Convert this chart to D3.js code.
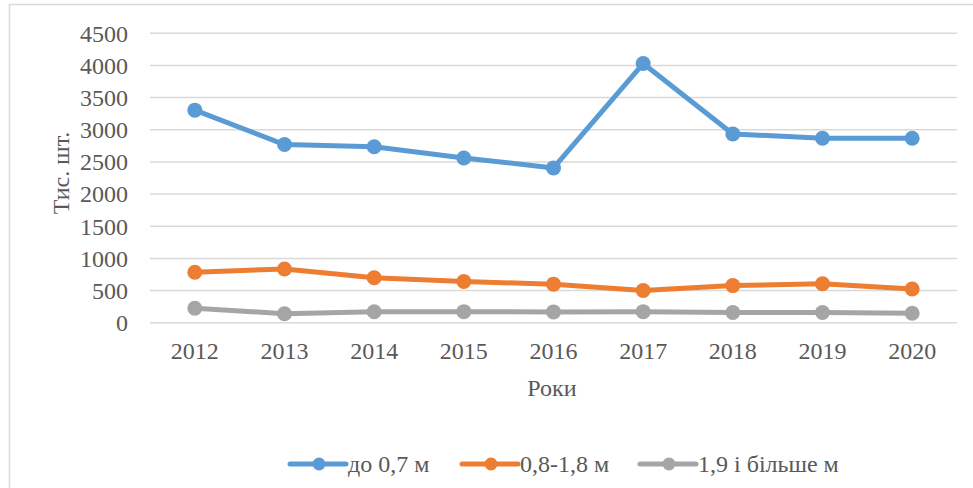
<!DOCTYPE html>
<html>
<head lang="uk">
    <meta charset="UTF-8">
    <title>d3</title>
    <style>
        body { margin: 0; background: #fff; }
        text { font-family: "Liberation Serif", "Times New Roman", serif; fill: #595959; }
        .grid line { stroke: #d9d9d9; stroke-width: 1.5; }
    </style>
</head>
<body>
<svg width="973" height="488"></svg>

<script src="https://cdn.jsdelivr.net/npm/d3@7"></script>
<script>
    var years = ["2012", "2013", "2014", "2015", "2016", "2017", "2018", "2019", "2020"];
    var small = [3305, 2770, 2735, 2562, 2407, 4030, 2935, 2868, 2868];
    var medium = [784, 835, 700, 640, 599, 500, 577, 605, 524];
    var large = [224, 140, 170, 172, 168, 172, 158, 158, 146];
    var yTicks = [0, 500, 1000, 1500, 2000, 2500, 3000, 3500, 4000, 4500];
    var seriesNames = ["до 0,7 м", "0,8-1,8 м", "1,9 і більше м"];
    var colors = ["#5b9bd5", "#ed7d31", "#a5a5a5"];

    var series = [small, medium, large];

    var svg = d3.select("svg");

    // chart frame (right and bottom edges fall outside the picture)
    svg.append("rect")
        .attr("x", 9.5).attr("y", 4.5)
        .attr("width", 1000).attr("height", 600)
        .attr("fill", "none")
        .attr("stroke", "#d9d9d9")
        .attr("stroke-width", 1.5);

    var plotLeft = 150, plotRight = 957, plotTop = 33.3, plotBottom = 322.7;

    var x = d3.scalePoint()
        .domain(years)
        .range([plotLeft, plotRight])
        .padding(0.5);

    var y = d3.scaleLinear()
        .domain([0, 4500])
        .range([plotBottom, plotTop]);

    // gridlines
    svg.append("g").attr("class", "grid")
        .selectAll("line")
        .data(yTicks)
        .enter().append("line")
        .attr("x1", plotLeft).attr("x2", plotRight)
        .attr("y1", function (d) { return y(d); })
        .attr("y2", function (d) { return y(d); });

    // y tick labels
    svg.append("g")
        .selectAll("text")
        .data(yTicks)
        .enter().append("text")
        .attr("x", 128)
        .attr("y", function (d) { return y(d); })
        .attr("dy", "0.35em")
        .attr("text-anchor", "end")
        .style("font-size", "24px")
        .text(function (d) { return d; });

    // x tick labels
    svg.append("g")
        .selectAll("text")
        .data(years)
        .enter().append("text")
        .attr("x", function (d) { return x(d); })
        .attr("y", 359)
        .attr("text-anchor", "middle")
        .style("font-size", "24px")
        .text(function (d) { return d; });

    // axis titles
    svg.append("text")
        .attr("x", 552).attr("y", 396)
        .attr("text-anchor", "middle")
        .style("font-size", "24px")
        .text("Роки");

    svg.append("text")
        .attr("transform", "translate(69,173) rotate(-90)")
        .attr("text-anchor", "middle")
        .style("font-size", "24px")
        .text("Тис. шт.");

    var line = d3.line()
        .x(function (d, i) { return x(years[i]); })
        .y(function (d) { return y(d); });

    series.forEach(function (vals, s) {
        var g = svg.append("g");
        g.append("path")
            .datum(vals)
            .attr("d", line)
            .attr("fill", "none")
            .attr("stroke", colors[s])
            .attr("stroke-width", 5)
            .attr("stroke-linejoin", "round");
        g.selectAll("circle")
            .data(vals)
            .enter().append("circle")
            .attr("cx", function (d, i) { return x(years[i]); })
            .attr("cy", function (d) { return y(d); })
            .attr("r", 7.5)
            .attr("fill", colors[s]);
    });

    // legend
    var legendX = [290, 462, 640];
    var legend = svg.append("g")
        .selectAll("g")
        .data(seriesNames)
        .enter().append("g")
        .attr("transform", function (d, i) { return "translate(" + legendX[i] + ",464)"; });

    legend.append("line")
        .attr("x1", 0).attr("x2", 56)
        .attr("stroke", function (d, i) { return colors[i]; })
        .attr("stroke-width", 5)
        .attr("stroke-linecap", "round");
    legend.append("circle")
        .attr("cx", 29).attr("r", 6.5)
        .attr("fill", function (d, i) { return colors[i]; });
    legend.append("text")
        .attr("x", 58).attr("y", 8)
        .style("font-size", "24px")
        .text(function (d) { return d; });
</script>
</body>
</html>
